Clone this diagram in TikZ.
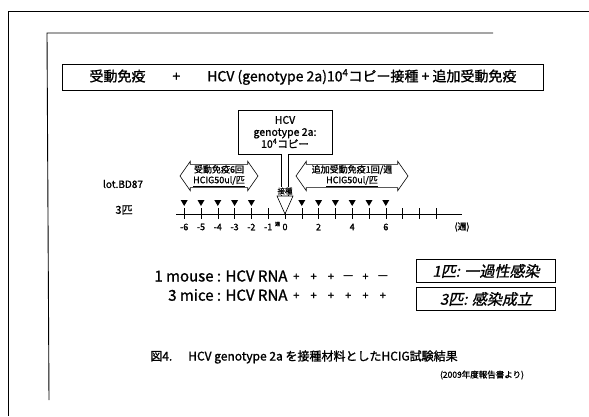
\documentclass[tikz,border=0pt]{standalone}
\usepackage{fontspec}
\setmainfont{Noto Sans CJK JP}[FakeBold=1.2]
\newfontfamily\slantjp{Noto Sans CJK JP}[FakeSlant=0.2, FakeBold=1.2]
\usetikzlibrary{arrows.meta, positioning, calc, shapes.arrows}
\newcommand{\tl}[1]{285+16.8*#1}

\begin{document}
\begin{tikzpicture}[x=1pt, y=-1pt,
  frame/.style={line width=0.9pt},
  box/.style={draw, line width=0.8pt, inner sep=0pt},
  dose/.style={draw, line width=0.6pt, double arrow, double arrow head extend=3pt,
    double arrow tip angle=110, minimum width=28pt, inner sep=0.5pt, align=center,
    font=\fontsize{9}{10.5}\selectfont},
  ticklabel/.style={font=\fontsize{9}{10}\selectfont},
  sign/.style={font=\fontsize{11}{12}\selectfont, inner sep=0pt}]
  \useasboundingbox (0,0) rectangle (589,416);
  % page frames
  \draw[frame] (589,11) -- (8,11) -- (8,416);
  \draw[frame] (493,33) -- (47,33) -- (49,400);

  % protocol line
  \node[box, minimum width=481pt, minimum height=26pt, font=\fontsize{14}{16}\selectfont]
    (title) at (303,77)
    {受動免疫\hspace{27pt}+\hspace{27pt}HCV (genotype 2a)10\textsuperscript{4}コピー接種 + 追加受動免疫};

  % inoculum and HCIG doses
  \node[box, minimum width=94pt, minimum height=44pt, align=center,
    font=\fontsize{10.5}{12}\selectfont] (hcv) at (285,132)
    {HCV\\genotype 2a:\\10\textsuperscript{4}コピー};
  \node[dose, minimum height=78pt] (pre) at (219,176)
    {受動免疫6回\\\underline{HCIG50ul/匹}};
  \node[dose, minimum height=112pt] (post) at (352,176)
    {追加受動免疫1回/週\\\underline{HCIG50ul/匹}};

  \node[font=\fontsize{10}{11}\selectfont] (lot) at (123,184) {lot.BD87};
  \node[font=\fontsize{11}{12}\selectfont] (group) at (124,210) {3匹};

  % time axis (weeks)
  \coordinate (t0) at (285,214);
  \coordinate (inj) at (285,196);
  \draw[line width=0.7pt] (176,214) -- (462,214);
  \foreach \k in {-6,...,9}
    \draw (\tl{\k},208) -- (\tl{\k},219);
  \foreach \k in {-6,-5,-4,-3,-2,1,2,3,4,5,6}
    \fill (\tl{\k}-3.5,200) -- ++(7,0) -- ++(-3.5,6) -- cycle;
  \foreach \k in {-6,...,-1,0,2,4,6}
    \node[ticklabel] at (\tl{\k},227) {\k};
  \node[font=\fontsize{5}{6}\selectfont] at (277.5,224) {週};
  \node[ticklabel] at (462,227) {(週)};

  % inoculation
  \draw[double, double distance=6pt, line width=0.6pt] (hcv.south) -- (inj);
  \draw[line width=0.6pt, fill=white] (inj) ++(-8,0) -- ++(16,0) -- (t0) -- cycle;
  \node[font=\fontsize{7.5}{8}\selectfont, fill=white, inner sep=0.3pt] (inoc) at (285,191) {接種};

  % HCV RNA results
  \node[anchor=east, font=\fontsize{15}{17}\selectfont] (one) at (291,276) {1 mouse : HCV RNA};
  \node[anchor=east, font=\fontsize{15}{17}\selectfont] (three) at (291,295) {3 mice : HCV RNA};
  \foreach \s [count=\i] in {+,+,+,---,+,---}
    \node[sign] at (279+17.3*\i,277) {\s};
  \foreach \i in {1,...,6}
    \node[sign] at (279+17.3*\i,296) {+};

  \node[box, minimum width=139pt, minimum height=23pt,
    font=\slantjp\fontsize{15}{17}\selectfont] (transient) at (486,271) {1匹: 一過性感染};
  \node[box, minimum width=139pt, minimum height=23pt,
    font=\slantjp\fontsize{15}{17}\selectfont] (established) at (486,299) {3匹: 感染成立};

  \node[font=\fontsize{12}{14}\selectfont] (caption) at (304,357)
    {図4.\hspace{16pt}HCV genotype 2a を接種材料としたHCIG試験結果};
  \node[font=\fontsize{8.5}{9}\selectfont] (source) at (482,375) {(2009年度報告書より)};
\end{tikzpicture}
\end{document}
